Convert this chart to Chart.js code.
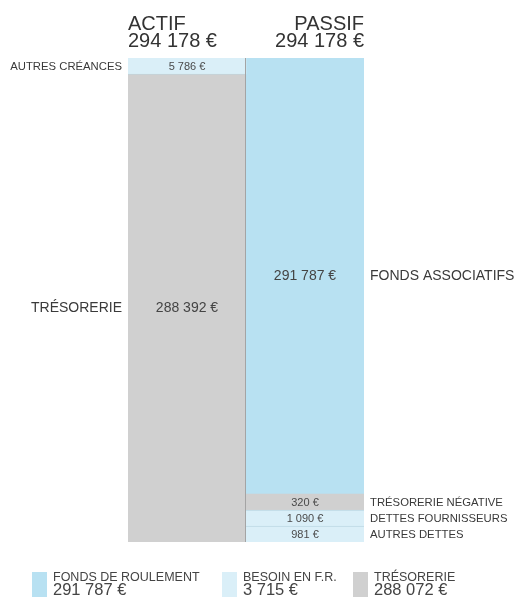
<!DOCTYPE html>
<html>
<head>
<meta charset="utf-8">
<script src="https://cdn.jsdelivr.net/npm/chart.js@4/dist/chart.umd.min.js"></script>
<style>
  html, body { margin: 0; padding: 0; background: #ffffff; overflow: hidden; }
  #wrap { width: 519px; height: 597px; }
</style>
</head>
<body>
<div id="wrap"><canvas id="c" width="519" height="597"></canvas></div>
<script>
// ---------- DATA ----------
const categories = ['ACTIF', 'PASSIF'];
const totals = [294178, 294178];

// stacked from bottom to top
const actifLabels = ['TRÉSORERIE', 'AUTRES CRÉANCES'];
const actifValues = [288392, 5786];

const passifLabels = ['AUTRES DETTES', 'DETTES FOURNISSEURS', 'TRÉSORERIE NÉGATIVE', 'FONDS ASSOCIATIFS'];
const passifValues = [981, 1090, 320, 291787];

const legendLabels = ['FONDS DE ROULEMENT', 'BESOIN EN F.R.', 'TRÉSORERIE'];
const legendValues = [291787, 3715, 288072];

// ---------- STYLE ----------
const BLUE = '#b8e1f2', LIGHT = '#daeff8', GREY = '#d0d0d0';
const actifColors = [GREY, LIGHT];
const passifColors = [LIGHT, LIGHT, GREY, BLUE];
const legendColors = [BLUE, LIGHT, GREY];
const legendX = [32, 222, 353];
const FONT = '"Liberation Sans", Arial, Helvetica, sans-serif';
const TEXT = '#3a3a3a';
const MIN_FRAC = 0.033; // minimum visible share for tiny segments

function fmt(v) { return String(v).replace(/\B(?=(\d{3})+(?!\d))/g, ' ') + ' €'; }

// display heights: tiny segments get a minimum share, the largest absorbs the difference
function displayValues(values, total) {
  const minV = total * MIN_FRAC;
  const disp = values.map(v => Math.max(v, minV));
  let big = 0;
  values.forEach((v, i) => { if (v > values[big]) big = i; });
  const others = disp.reduce((s, d, i) => i === big ? s : s + d, 0);
  disp[big] = total - others;
  return disp;
}

const actifDisp = displayValues(actifValues, totals[0]);
const passifDisp = displayValues(passifValues, totals[1]);

const datasets = [];
actifValues.forEach((v, i) => datasets.push({
  label: actifLabels[i], side: 0, realValue: v,
  data: [actifDisp[i], null],
  backgroundColor: actifColors[i],
  borderColor: '#c3d3da',
  borderWidth: { top: i < actifValues.length - 1 ? 1 : 0, left: 0, right: 0, bottom: 0 },
  borderSkipped: false
}));
passifValues.forEach((v, i) => datasets.push({
  label: passifLabels[i], side: 1, realValue: v,
  data: [null, passifDisp[i]],
  backgroundColor: passifColors[i],
  borderColor: '#bcd8e4',
  borderWidth: { top: (i < 2) ? 1 : 0, left: 0, right: 0, bottom: 0 },
  borderSkipped: false
}));

const labelPlugin = {
  id: 'labels',
  afterDatasetsDraw(chart) {
    const ctx = chart.ctx;
    const ca = chart.chartArea;
    ctx.save();
    // divider between the two columns
    const m0 = chart.getDatasetMeta(0).data[0];
    const divX = Math.round(m0.x + m0.width / 2) - 0.5;
    ctx.strokeStyle = '#a4a4a4';
    ctx.lineWidth = 1;
    ctx.beginPath();
    ctx.moveTo(divX, ca.top);
    ctx.lineTo(divX, ca.bottom);
    ctx.stroke();

    ctx.fillStyle = TEXT;
    ctx.textBaseline = 'middle';
    chart.data.datasets.forEach((ds, di) => {
      const meta = chart.getDatasetMeta(di);
      const el = meta.data[ds.side];
      const top = Math.min(el.y, el.base), bot = Math.max(el.y, el.base);
      const cy = (top + bot) / 2 + 0.5;
      const big = (bot - top) > 40;
      ctx.font = (big ? 14 : 11) + 'px ' + FONT;
      ctx.fillStyle = big ? '#444' : '#4a4a4a';
      ctx.textAlign = 'center';
      ctx.fillText(fmt(ds.realValue), el.x, cy);
      ctx.fillStyle = TEXT;
      ctx.font = (big ? 14 : 11.3) + 'px ' + FONT;
      if (ds.side === 0) {
        ctx.textAlign = 'right';
        ctx.fillText(ds.label, el.x - el.width / 2 - 6, cy);
      } else {
        ctx.textAlign = 'left';
        ctx.fillText(ds.label, el.x + el.width / 2 + 6, cy);
      }
    });

    // column headers
    ctx.textBaseline = 'alphabetic';
    ctx.fillStyle = '#333';
    ctx.font = '20px ' + FONT;
    ctx.textAlign = 'left';
    ctx.fillText(categories[0], ca.left, ca.top - 28);
    ctx.fillText(fmt(totals[0]), ca.left, ca.top - 11);
    ctx.textAlign = 'right';
    ctx.fillText(categories[1], ca.right, ca.top - 28);
    ctx.fillText(fmt(totals[1]), ca.right, ca.top - 11);

    // legend
    const ly = ca.bottom + 30;
    legendLabels.forEach((lab, i) => {
      const x = legendX[i];
      ctx.fillStyle = legendColors[i];
      ctx.fillRect(x, ly, 15, 26);
      ctx.fillStyle = '#444';
      ctx.textAlign = 'left';
      ctx.font = '12.5px ' + FONT;
      ctx.fillText(lab, x + 21, ly + 9);
      ctx.font = '16.5px ' + FONT;
      ctx.fillText(fmt(legendValues[i]), x + 21, ly + 23);
    });
    ctx.restore();
  }
};

new Chart(document.getElementById('c'), {
  type: 'bar',
  data: { labels: categories, datasets },
  options: {
    responsive: false,
    animation: false,
    layout: { padding: { left: 128, right: 155, top: 58, bottom: 55 } },
    datasets: { bar: { barPercentage: 1, categoryPercentage: 1 } },
    scales: {
      x: { display: false, stacked: true },
      y: { display: false, stacked: true, min: 0, max: totals[0] }
    },
    plugins: { legend: { display: false }, tooltip: { enabled: false } }
  },
  plugins: [labelPlugin]
});
</script>
</body>
</html>
